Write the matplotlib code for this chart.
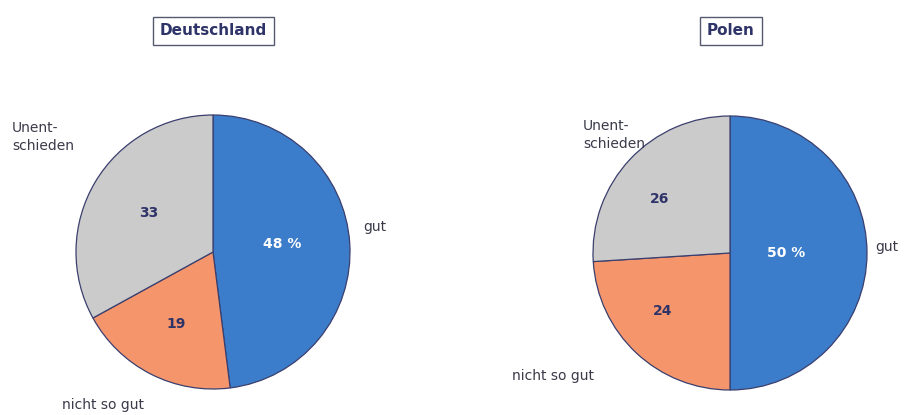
import matplotlib
matplotlib.use("Agg")
import matplotlib.pyplot as plt

categories = ["gut", "nicht so gut", "Unentschieden"]
category_texts = ["gut", "nicht so gut", "Unent-\nschieden"]
countries = ["Deutschland", "Polen"]
values_de = [48, 19, 33]
values_pl = [50, 24, 26]
value_labels_de = ["48 %", "19", "33"]
value_labels_pl = ["50 %", "24", "26"]

colors = ["#3b7dcb", "#f5956c", "#cbcbcb"]
edge = "#3a3f6e"
navy = "#2f3468"
txt = "#3a3a4a"

W, H = 909, 415
fig = plt.figure(figsize=(W / 100, H / 100), dpi=100)
ax = fig.add_axes([0, 0, 1, 1])
ax.set_xlim(0, W)
ax.set_ylim(0, H)
ax.set_aspect("equal")
ax.axis("off")

R = 137
# layout positions in pixel coordinates from top-left
panels = [
    dict(vals=values_de, labs=value_labels_de, name=countries[0], c=(213, 252),
         title_x=213,
         num_pos=[(282, 244), (176, 324), (149, 213)],
         cat_pos=[(363, 227), (62, 405), (12, 137)]),
    dict(vals=values_pl, labs=value_labels_pl, name=countries[1], c=(730, 253),
         title_x=731,
         num_pos=[(786, 253), (663, 311), (660, 199)],
         cat_pos=[(875, 247), (512, 376), (583, 135)]),
]

font = "DejaVu Sans"
for p in panels:
    cx, cy = p["c"]
    ax.pie(p["vals"], colors=colors, startangle=90, counterclock=False,
           center=(cx, H - cy), radius=R, frame=True,
           wedgeprops=dict(edgecolor=edge, linewidth=0.9))
    for i, ((x, y), s) in enumerate(zip(p["num_pos"], p["labs"])):
        color = "white" if i == 0 else navy
        ax.text(x, H - y, s, ha="center", va="center", fontsize=10, fontweight="bold",
                color=color, family=font)
    for (x, y), s in zip(p["cat_pos"], category_texts):
        ax.text(x, H - y, s, ha="left", va="center", fontsize=10, color=txt, family=font,
                linespacing=1.45)
    ax.text(p["title_x"], H - 31, p["name"], ha="center", va="center", fontsize=11,
            fontweight="bold", color=navy, family=font,
            bbox=dict(boxstyle="square,pad=0.45", facecolor="white", edgecolor="#555a70",
                      linewidth=1.0))

ax.set_xlim(0, W)
ax.set_ylim(0, H)
fig.savefig("out.png", dpi=100)
